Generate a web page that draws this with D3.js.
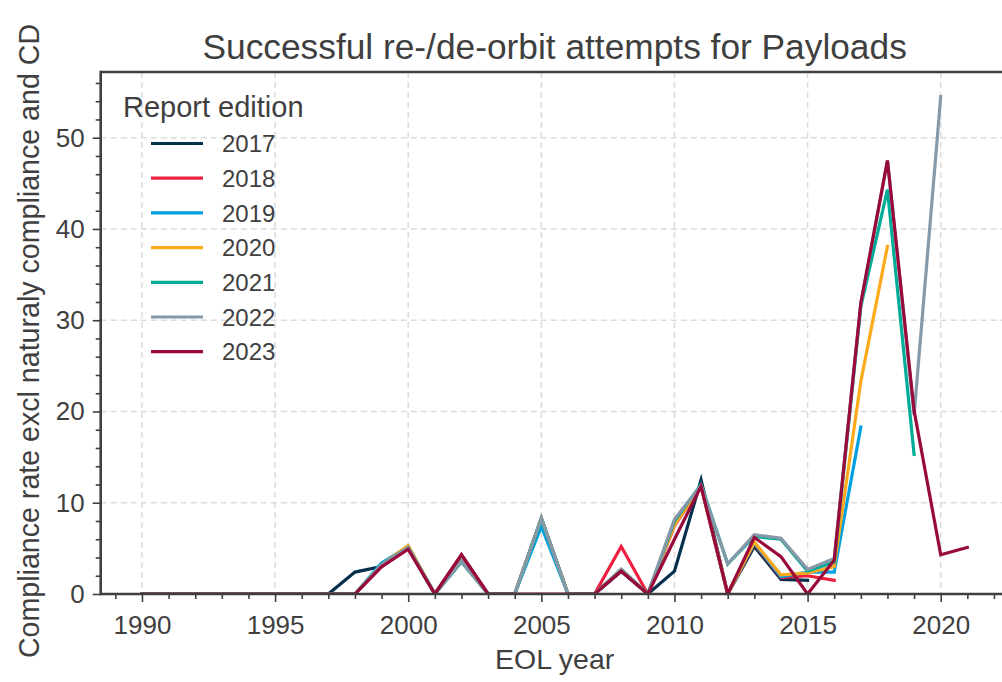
<!DOCTYPE html>
<html>
<head>
<meta charset="utf-8">
<script src="https://cdn.jsdelivr.net/npm/d3@7"></script>
<style>
  html, body { margin: 0; padding: 0; background: #fff; }
  svg { display: block; font-family: "Liberation Sans", Arial, Helvetica, sans-serif; }
</style>
</head>
<body>
<svg id="chart" width="1002" height="682"></svg>
<script>
// ---- Data ----
const years = d3.range(1990, 2022);
const editions = ["2017", "2018", "2019", "2020", "2021", "2022", "2023"];
const colors = ["#04304b", "#ee2040", "#00a0e1", "#fcaa1b", "#00ab97", "#8599a8", "#990a3c"];
const zeros8 = [0, 0, 0, 0, 0, 0, 0, 0]; // 1990-1997
const s2017 = [...zeros8, 2.4, 3.0, 5.0, 0, 4.3, 0, 0, 8.3, 0, 0, 2.5, 0, 2.5, 12.5, 0, 5.2, 1.6, 1.5];
const s2018 = [...zeros8, 0, 3.0, 5.0, 0, 4.3, 0, 0, 8.3, 0, 0, 5.2, 0, 7.5, 11.8, 0, 5.5, 1.8, 2.0, 1.5];
const s2019 = [...zeros8, 0, 3.4, 5.2, 0, 3.5, 0, 0, 7.4, 0, 0, 2.6, 0, 7.8, 11.8, 0, 5.6, 1.9, 2.4, 2.4, 18.3];
const s2020 = [...zeros8, 0, 3.2, 5.3, 0, 3.6, 0, 0, 8.3, 0, 0, 2.7, 0, 7.6, 11.8, 0, 5.7, 2.1, 2.3, 3.0, 23.3, 38.1];
const s2021 = [...zeros8, 0, 3.2, 5.1, 0, 3.6, 0, 0, 8.3, 0, 0, 2.7, 0, 8.0, 12.0, 3.3, 6.3, 6.0, 2.5, 3.5, 31.5, 44.3, 15.3];
const s2022 = [...zeros8, 0, 3.2, 5.1, 0, 3.6, 0, 0, 8.3, 0, 0, 2.7, 0, 8.2, 11.9, 3.3, 6.5, 6.1, 2.7, 3.9, 31.8, 47.5, 19.6, 54.5];
const s2023 = [...zeros8, 0, 3.0, 4.9, 0, 4.3, 0, 0, 0, 0, 0, 2.5, 0, 6.0, 11.8, 0, 6.2, 4.1, 0, 3.7, 31.9, 47.5, 20.1, 4.3, 5.1];
const seriesValues = [s2017, s2018, s2019, s2020, s2021, s2022, s2023];
const xTicks = [1990, 1995, 2000, 2005, 2010, 2015, 2020];
const yTicks = [0, 10, 20, 30, 40, 50];
const titleText = "Successful re-/de-orbit attempts for Payloads";
const xLabelText = "EOL year";
const yLabelText = "Compliance rate excl naturaly compliance and CD";
const legendTitle = "Report edition";

// ---- Layout ----
const svg = d3.select("#chart");
const plot = { left: 100.7, right: 1008.6, top: 72, bottom: 594 };
const x = d3.scaleLinear().domain([1988.45, 2022.55]).range([plot.left, plot.right]);
const y = d3.scaleLinear().domain([0, 57.2]).range([plot.bottom, plot.top]);
const ink = "#3f3f3f";

svg.append("defs").append("clipPath").attr("id", "clip")
  .append("rect").attr("x", plot.left).attr("y", plot.top)
  .attr("width", plot.right - plot.left).attr("height", plot.bottom - plot.top);

// grid
const grid = svg.append("g");
grid.selectAll("line.gx").data(xTicks).join("line")
  .attr("x1", d => x(d)).attr("x2", d => x(d))
  .attr("y1", plot.top).attr("y2", plot.bottom)
  .attr("stroke", "#dcdcdc").attr("stroke-width", 1.5).attr("stroke-dasharray", "6,4");
grid.selectAll("line.gy").data(yTicks.filter(d => d > 0)).join("line")
  .attr("x1", plot.left).attr("x2", plot.right)
  .attr("y1", d => y(d)).attr("y2", d => y(d))
  .attr("stroke", "#dcdcdc").attr("stroke-width", 1.5).attr("stroke-dasharray", "6,4");

// lines
const line = d3.line().defined(d => d[1] != null).x(d => x(d[0])).y(d => y(d[1]));
const lines = svg.append("g").attr("clip-path", "url(#clip)");
seriesValues.forEach((vals, i) => {
  const pts = vals.map((v, j) => [years[j], v]);
  lines.append("path").datum(pts)
    .attr("d", line).attr("fill", "none")
    .attr("stroke", colors[i]).attr("stroke-width", 3.2)
    .attr("stroke-linejoin", "miter").attr("stroke-linecap", "square");
});

// axes
const xAxis = d3.axisBottom(x).tickValues(xTicks).tickFormat(d3.format("d")).tickSize(8).tickPadding(14);
const xMinor = d3.axisBottom(x).tickValues(d3.range(1989, 2023).filter(d => d % 5 !== 0)).tickFormat("").tickSize(5);
const yAxis = d3.axisLeft(y).tickValues(yTicks).tickSize(8).tickPadding(8);
const yMinor = d3.axisLeft(y).tickValues(d3.range(2, 57, 2).filter(d => d % 10 !== 0)).tickFormat("").tickSize(5);

function styleAxis(g) {
  g.select(".domain").remove();
  g.selectAll(".tick line").attr("stroke", ink).attr("stroke-width", 1.6);
  g.selectAll(".tick text").attr("fill", ink).attr("font-size", 26)
    .attr("font-family", "'Liberation Sans', Arial, sans-serif");
}
svg.append("g").attr("transform", `translate(0,${plot.bottom})`).call(xMinor).call(styleAxis);
svg.append("g").attr("transform", `translate(0,${plot.bottom})`).call(xAxis).call(styleAxis);
svg.append("g").attr("transform", `translate(${plot.left},0)`).call(yMinor).call(styleAxis);
svg.append("g").attr("transform", `translate(${plot.left},0)`).call(yAxis).call(styleAxis);

// spines
svg.append("line").attr("x1", plot.left).attr("x2", plot.right).attr("y1", plot.bottom).attr("y2", plot.bottom)
  .attr("stroke", ink).attr("stroke-width", 2.6);
svg.append("line").attr("x1", plot.left).attr("x2", plot.right).attr("y1", plot.top).attr("y2", plot.top)
  .attr("stroke", ink).attr("stroke-width", 2.6);
svg.append("line").attr("x1", plot.left).attr("x2", plot.left).attr("y1", plot.top - 1.3).attr("y2", plot.bottom + 1.3)
  .attr("stroke", ink).attr("stroke-width", 2.6);

// title & labels
const cx = (plot.left + plot.right) / 2;
svg.append("text").attr("x", cx).attr("y", 59).attr("text-anchor", "middle")
  .attr("font-size", 35.3).attr("fill", ink).text(titleText);
svg.append("text").attr("x", cx).attr("y", 669).attr("text-anchor", "middle")
  .attr("font-size", 28.5).attr("fill", ink).text(xLabelText);
svg.append("text").attr("transform", `translate(39,${(plot.top + plot.bottom) / 2 + 8}) rotate(-90)`)
  .attr("text-anchor", "middle").attr("font-size", 28.6).attr("fill", ink).text(yLabelText);

// legend
const lg = svg.append("g");
lg.append("text").attr("x", 123).attr("y", 117).attr("font-size", 29).attr("fill", ink).text(legendTitle);
editions.forEach((e, i) => {
  const cy = 143.5 + i * 34.7;
  lg.append("line").attr("x1", 151).attr("x2", 203).attr("y1", cy).attr("y2", cy)
    .attr("stroke", colors[i]).attr("stroke-width", 3.2);
  lg.append("text").attr("x", 222).attr("y", cy + 8.7).attr("font-size", 24).attr("fill", ink).text(e);
});
</script>
</body>
</html>
